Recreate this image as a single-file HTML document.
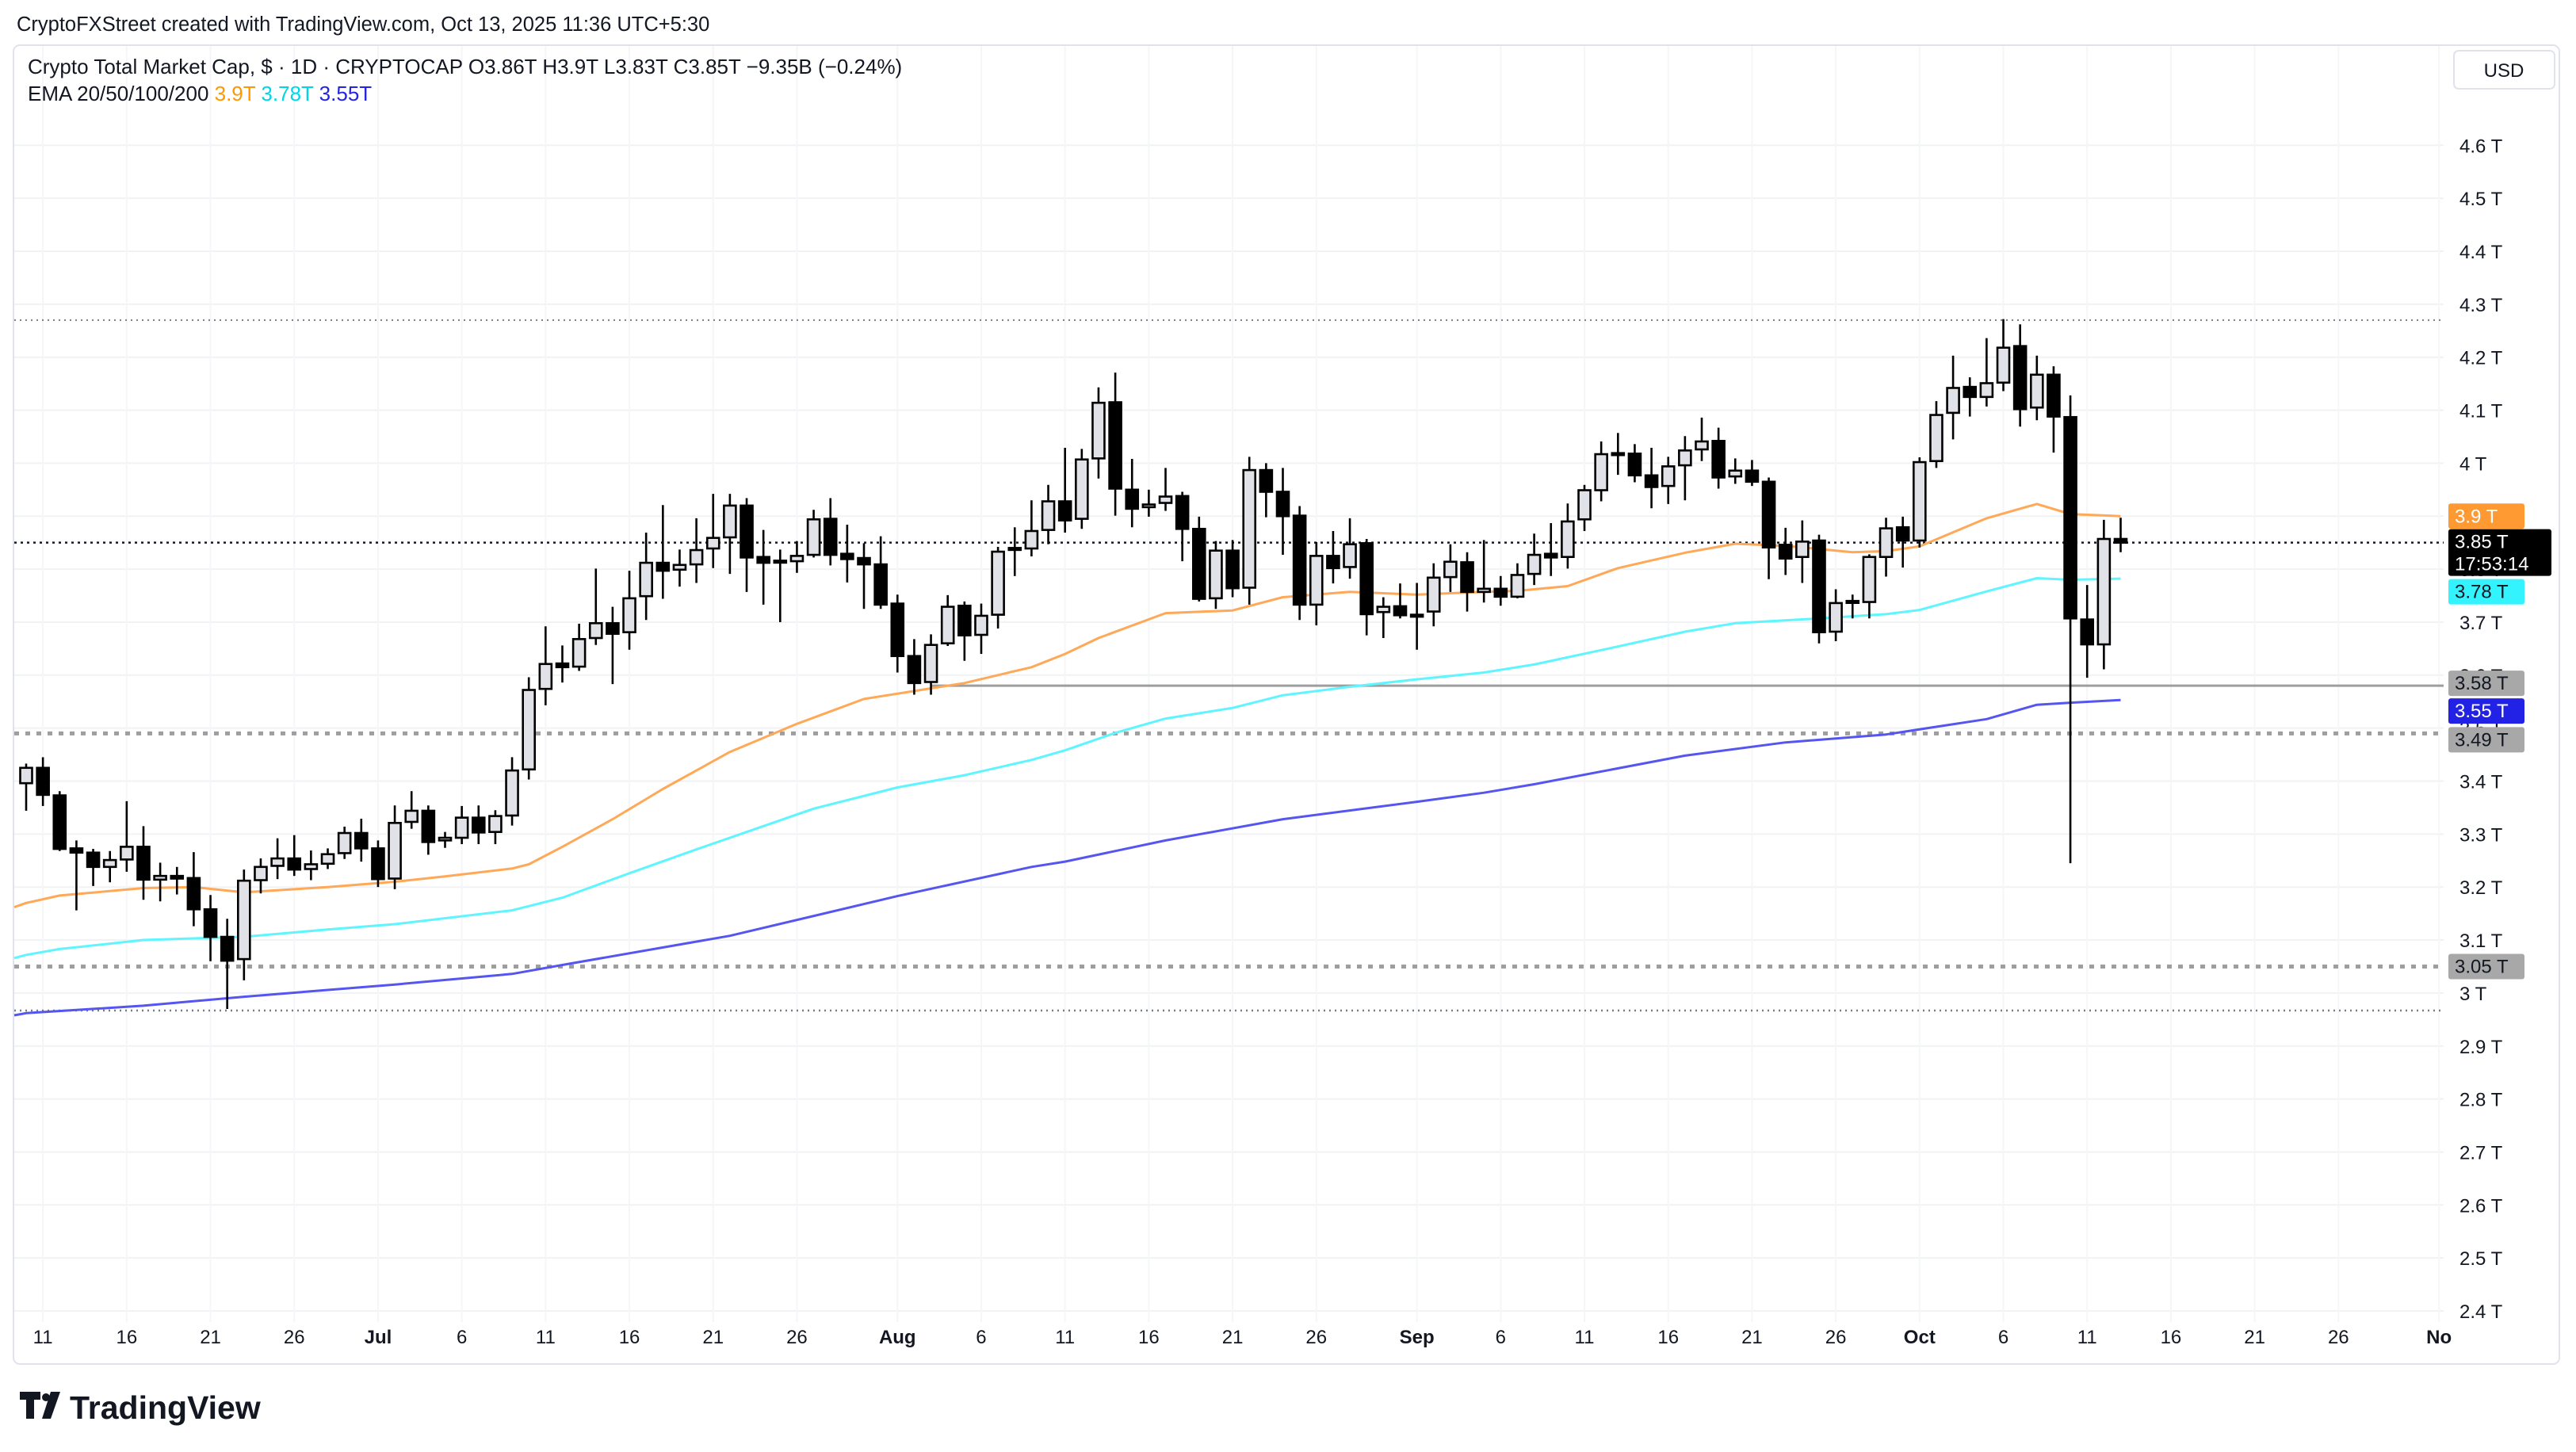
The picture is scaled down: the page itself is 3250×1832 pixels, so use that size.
<!DOCTYPE html>
<html><head><meta charset="utf-8">
<style>
html,body{margin:0;padding:0;background:#fff;}
body{width:3250px;height:1832px;overflow:hidden;font-family:"Liberation Sans",sans-serif;}
svg{display:block;}
</style></head>
<body>
<svg id="chart" width="3250" height="1832" viewBox="0 0 3250 1832" xmlns="http://www.w3.org/2000/svg" font-family="Liberation Sans, sans-serif">
  <rect x="0" y="0" width="3250" height="1832" fill="#ffffff"/>
  <text x="21" y="39" font-size="25.5" fill="#131722">CryptoFXStreet created with TradingView.com, Oct 13, 2025 11:36 UTC+5:30</text>
  <rect x="17" y="57" width="3212" height="1664" rx="8" fill="none" stroke="#e0e3eb" stroke-width="2"/>
  <g id="grid"></g>
  <g id="levels"></g>
  <g id="emas"></g>
  <g id="candles"></g>
  <g id="yaxis"></g>
  <g id="xaxis"></g>
  <g id="tags"></g>
  <text x="35" y="93" font-size="26" fill="#131722">Crypto Total Market Cap, $ · 1D · CRYPTOCAP  <tspan>O</tspan><tspan>3.86T</tspan> <tspan>H</tspan><tspan>3.9T</tspan> <tspan>L</tspan><tspan>3.83T</tspan> <tspan>C</tspan><tspan>3.85T</tspan> <tspan>−9.35B (−0.24%)</tspan></text>
  <text x="35" y="127" font-size="26" fill="#131722">EMA 20/50/100/200 <tspan fill="#ff9800">3.9T</tspan> <tspan fill="#00d5e8">3.78T</tspan> <tspan fill="#2424e6">3.55T</tspan></text>
  <g>
    <rect x="3096" y="64" width="127" height="48" rx="6" fill="#fff" stroke="#e0e3eb" stroke-width="2"/>
    <text x="3159" y="97" font-size="24" text-anchor="middle" fill="#131722">USD</text>
  </g>
  <g>
    <path d="M25 1756 h26 v10 h-8 v24 h-10 v-24 h-8 z" fill="#131722"/>
    <circle cx="58" cy="1763" r="5" fill="#131722"/>
    <path d="M64 1756 h12 l-12 34 h-11 z" fill="#131722"/>
    <text x="88" y="1790" font-size="41" font-weight="bold" fill="#131722">TradingView</text>
  </g>
</svg>
<script>
const opens=[3.396,3.425,3.373,3.273,3.265,3.238,3.252,3.276,3.214,3.221,3.217,3.158,3.106,3.064,3.213,3.240,3.254,3.234,3.244,3.264,3.302,3.273,3.216,3.323,3.344,3.288,3.293,3.331,3.304,3.335,3.422,3.574,
3.622,3.616,3.670,3.698,3.681,3.749,3.812,3.799,3.809,3.839,3.860,3.920,3.823,3.816,3.815,3.827,3.895,3.829,3.821,3.809,3.735,3.636,3.587,3.660,3.731,3.676,3.714,3.839,3.839,3.874,3.928,
3.895,4.009,4.115,3.950,3.917,3.925,3.938,3.876,3.745,3.835,3.765,3.987,3.946,3.901,3.733,3.825,3.804,3.849,3.719,3.730,3.714,3.720,3.785,3.813,3.757,3.763,3.748,3.791,3.829,3.823,
3.894,3.949,4.019,4.018,3.977,3.957,3.996,4.026,4.042,3.975,3.986,3.965,3.846,3.823,3.854,3.682,3.740,3.738,3.823,3.879,3.854,4.004,4.095,4.144,4.125,4.152,4.221,4.105,4.167,4.087,3.705,3.658,3.857];
const highs=[3.433,3.445,3.381,3.288,3.272,3.268,3.362,3.315,3.246,3.238,3.266,3.185,3.140,3.233,3.254,3.292,3.298,3.269,3.273,3.314,3.329,3.288,3.354,3.381,3.354,3.304,3.353,3.354,3.345,3.445,3.596,3.692,
3.656,3.697,3.801,3.729,3.797,3.869,3.921,3.837,3.896,3.942,3.942,3.934,3.874,3.837,3.853,3.912,3.934,3.884,3.849,3.862,3.752,3.668,3.677,3.751,3.739,3.735,3.842,3.879,3.930,3.959,4.029,
4.027,4.143,4.171,4.008,3.950,3.991,3.946,3.899,3.853,3.855,4.012,4.000,3.991,3.919,3.851,3.872,3.896,3.857,3.747,3.773,3.774,3.811,3.847,3.832,3.855,3.787,3.811,3.867,3.887,3.924,
3.959,4.041,4.057,4.036,4.029,4.012,4.051,4.086,4.067,4.009,4.006,3.973,3.878,3.892,3.865,3.762,3.752,3.828,3.897,3.899,4.011,4.117,4.203,4.162,4.236,4.272,4.262,4.203,4.183,4.128,3.770,3.893,3.897];
const lows=[3.344,3.353,3.268,3.156,3.202,3.209,3.229,3.176,3.173,3.186,3.126,3.060,2.970,3.024,3.188,3.215,3.221,3.213,3.234,3.253,3.248,3.200,3.196,3.310,3.261,3.274,3.281,3.281,3.281,3.316,3.403,3.543,
3.586,3.608,3.657,3.583,3.648,3.704,3.744,3.767,3.774,3.802,3.791,3.757,3.733,3.700,3.793,3.822,3.807,3.775,3.725,3.725,3.605,3.563,3.563,3.655,3.627,3.640,3.688,3.787,3.824,3.847,3.869,
3.876,3.971,3.901,3.879,3.899,3.910,3.815,3.739,3.725,3.747,3.733,3.898,3.827,3.704,3.694,3.773,3.782,3.675,3.670,3.707,3.648,3.692,3.757,3.720,3.737,3.731,3.745,3.770,3.787,3.801,
3.872,3.928,3.978,3.964,3.915,3.923,3.930,4.004,3.952,3.961,3.957,3.781,3.789,3.774,3.660,3.664,3.707,3.707,3.786,3.803,3.841,3.991,4.045,4.088,4.107,4.136,4.069,4.081,4.020,3.245,3.595,3.611,3.832];
const closes=[3.425,3.374,3.272,3.265,3.238,3.251,3.276,3.214,3.221,3.216,3.158,3.106,3.061,3.212,3.238,3.254,3.233,3.243,3.262,3.302,3.273,3.215,3.321,3.344,3.285,3.293,3.331,3.303,3.334,3.420,3.572,3.621,
3.615,3.668,3.698,3.678,3.745,3.812,3.797,3.808,3.836,3.859,3.920,3.822,3.812,3.815,3.825,3.894,3.827,3.819,3.809,3.733,3.636,3.585,3.657,3.729,3.675,3.712,3.833,3.840,3.872,3.928,3.892,
4.007,4.114,3.952,3.914,3.922,3.937,3.876,3.744,3.835,3.764,3.987,3.946,3.900,3.733,3.825,3.802,3.847,3.715,3.729,3.713,3.714,3.784,3.814,3.757,3.763,3.748,3.789,3.827,3.822,3.890,
3.949,4.017,4.019,3.977,3.955,3.994,4.024,4.041,3.973,3.986,3.965,3.841,3.820,3.852,3.681,3.736,3.740,3.823,3.877,3.854,4.002,4.091,4.142,4.125,4.151,4.218,4.102,4.167,4.088,3.707,3.658,3.857,3.850];

const ema20Idx=[-1,0,2,7,10,13,18,22,25,29,30,32,35,38,42,46,50,53,56,60,62,64,68,72,75,79,83,87,89,92,95,99,102,105,109,111,113,117,120,122,125];
const ema20Val=[3.162,3.170,3.184,3.198,3.200,3.190,3.200,3.210,3.220,3.235,3.243,3.276,3.328,3.385,3.455,3.508,3.555,3.570,3.585,3.615,3.640,3.670,3.717,3.722,3.747,3.757,3.752,3.757,3.759,3.768,3.802,3.831,3.848,3.844,3.832,3.834,3.843,3.896,3.923,3.904,3.900];
const ema50Idx=[-1,0,2,7,13,18,22,29,32,36,40,43,47,52,56,60,62,65,68,72,75,79,83,87,90,95,99,102,107,111,113,117,120,122,125];
const ema50Val=[3.066,3.072,3.083,3.100,3.106,3.120,3.130,3.156,3.180,3.226,3.271,3.304,3.348,3.388,3.411,3.440,3.458,3.491,3.518,3.538,3.562,3.578,3.592,3.605,3.620,3.654,3.682,3.698,3.707,3.715,3.723,3.758,3.783,3.780,3.782];
const ema200Idx=[-1,0,7,13,22,29,32,42,52,60,62,68,75,83,87,90,99,105,111,117,120,122,125];
const ema200Val=[2.958,2.962,2.976,2.993,3.016,3.036,3.053,3.108,3.183,3.238,3.248,3.288,3.328,3.361,3.378,3.394,3.448,3.473,3.488,3.517,3.544,3.548,3.553];

const yTicks=[4.6,4.5,4.4,4.3,4.2,4.1,4.0,3.9,3.8,3.7,3.6,3.5,3.4,3.3,3.2,3.1,3.0,2.9,2.8,2.7,2.6,2.5,2.4];
const yTickLabels=["4.6 T","4.5 T","4.4 T","4.3 T","4.2 T","4.1 T","4 T","3.9 T","3.8 T","3.7 T","3.6 T","3.5 T","3.4 T","3.3 T","3.2 T","3.1 T","3 T","2.9 T","2.8 T","2.7 T","2.6 T","2.5 T","2.4 T"];
const xTickIdx=[1,6,11,16,21,26,31,36,41,46,52,57,62,67,72,77,83,88,93,98,103,108,113,118,123,128,133,138,144];
const xTickLabels=["11","16","21","26","Jul","6","11","16","21","26","Aug","6","11","16","21","26","Sep","6","11","16","21","26","Oct","6","11","16","21","26","No"];

const NS="http://www.w3.org/2000/svg";
const PL=18, PR=3083, PT=58, PB=1668;
function y(p){return 183.3+(4.6-p)*668.5;}
function x(i){return 33+i*21.14;}
function mk(tag,attrs,parent){const e=document.createElementNS(NS,tag);for(const k in attrs)e.setAttribute(k,attrs[k]);parent.appendChild(e);return e;}

const grid=document.getElementById('grid');
yTicks.forEach(function(v){
  const l=mk('line',{x1:PL,x2:PR,y1:y(v),y2:y(v),stroke:'#f0f2f5','stroke-width':2},grid);
  
  
});
xTickIdx.forEach(function(i){
  const l=mk('line',{x1:x(i),x2:x(i),y1:PT,y2:PB,stroke:'#f5f6f8','stroke-width':2},grid);
  
  
});

const lv=document.getElementById('levels');
function hline(p,x1,color,dash,w,name){
  const l=mk('line',{x1:x1,x2:PR,y1:y(p),y2:y(p),stroke:color,'stroke-width':w,'stroke-dasharray':dash},lv);
  
  
}
hline(4.27,PL,'#787b86','2 5',2,'high-level-line');
hline(3.85,PL,'#131722','3 5',2.5,'current-price-line');
hline(3.58,x(54),'#9e9e9e','none',3,'support-3-58-line');
hline(3.49,PL,'#9e9e9e','6 8',5,'support-3-49-line');
hline(3.05,PL,'#9e9e9e','6 8',5,'support-3-05-line');
hline(2.967,PL,'#787b86','2 5',2.5,'low-level-line');

const em=document.getElementById('emas');
function emaLine(idx,val,color,name){
  let d='';
  idx.forEach(function(i,k){d+=(k?'L':'M')+Math.max(x(i),PL).toFixed(1)+' '+y(val[k]).toFixed(1)+' ';});
  const p=mk('path',{d:d,fill:'none',stroke:color,'stroke-width':3,'stroke-linejoin':'round'},em);
  
  
}
emaLine(ema200Idx,ema200Val,'#5555f0','ema-200-line');
emaLine(ema50Idx,ema50Val,'#5ff5ff','ema-50-line');
emaLine(ema20Idx,ema20Val,'#ffa857','ema-20-line');

const cg=document.getElementById('candles');
const bw=15;
for(let i=0;i<opens.length;i++){
  const o=opens[i],c=closes[i],h=highs[i],l=lows[i];
  const up=c>=o;
  const g=mk('g',{},cg);
  
  
  mk('line',{x1:x(i),x2:x(i),y1:y(h),y2:y(l),stroke:'#000','stroke-width':2.6},g);
  const top=y(Math.max(o,c)), bot=y(Math.min(o,c));
  mk('rect',{x:x(i)-bw/2,y:top,width:bw,height:Math.max(bot-top,2.5),fill:up?'#e1e2e7':'#000',stroke:'#000','stroke-width':2.6},g);
}

const ya=document.getElementById('yaxis');
yTicks.forEach(function(v,k){
  const t=mk('text',{x:3103,y:y(v)+9,'font-size':24,fill:'#131722'},ya);
  t.textContent=yTickLabels[k];
  
  
});
const xa=document.getElementById('xaxis');
xTickIdx.forEach(function(i,k){
  const lab=xTickLabels[k];
  const bold=/[A-Za-z]/.test(lab);
  const t=mk('text',{x:x(i),y:1695,'font-size':24,'text-anchor':'middle',fill:'#131722','font-weight':bold?'bold':'normal'},xa);
  t.textContent=lab;
  
  
});

const tg=document.getElementById('tags');
function tag(top,label,bg,fg,name,extra,w){
  const g=mk('g',{},tg);
  
  
  const h=extra?59:32;
  mk('rect',{x:3089,y:top,width:w||96,height:h,rx:3,fill:bg},g);
  const t=mk('text',{x:3097,y:top+24,'font-size':24,fill:fg},g);
  t.textContent=label;
  if(extra){const t2=mk('text',{x:3097,y:top+52,'font-size':24,fill:fg},g);t2.textContent=extra;}
}
tag(y(3.9)-16,'3.9 T','#ff9a33','#fff','ema-20-tag');
tag(y(3.85)-17,'3.85 T','#000','#fff','current-price-tag','17:53:14',130);
tag(y(3.85)+46,'3.78 T','#33f3ff','#131722','ema-50-tag');
tag(y(3.58)-19,'3.58 T','#a8a8a8','#131722','level-3-58-tag');
tag(y(3.58)+16,'3.55 T','#2222e6','#fff','ema-200-tag');
tag(y(3.49)-8,'3.49 T','#a8a8a8','#131722','level-3-49-tag');
tag(y(3.05)-16,'3.05 T','#a8a8a8','#131722','level-3-05-tag');
</script>
</body></html>
